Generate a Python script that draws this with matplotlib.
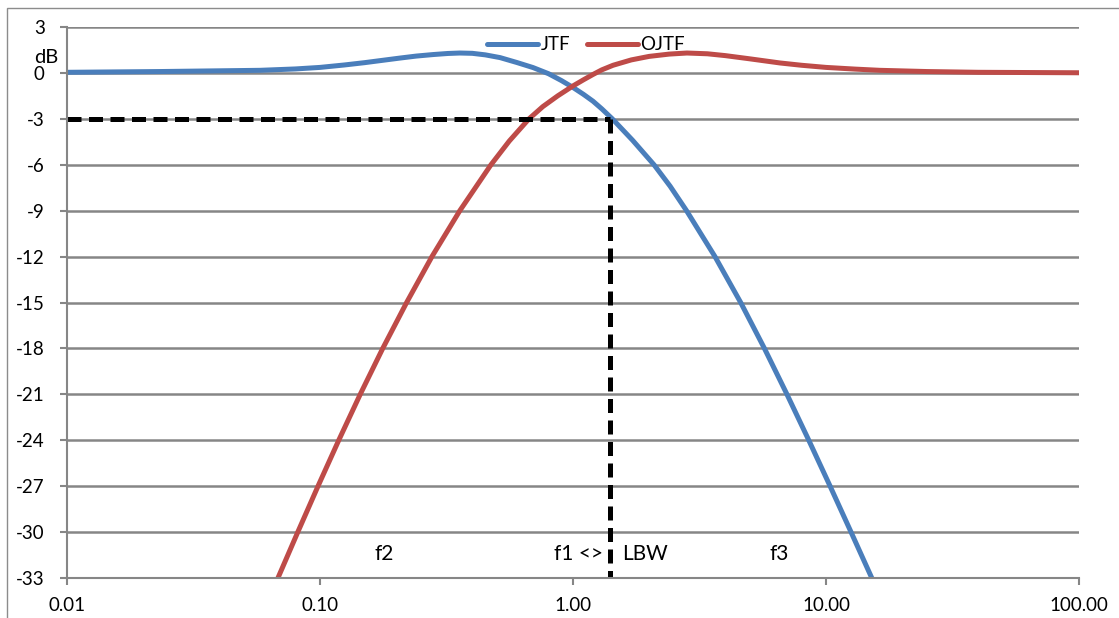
import matplotlib
matplotlib.use('Agg')
import matplotlib.pyplot as plt
from matplotlib.patches import Rectangle

# values (frequency, dB)
jtf_f = [0.01, 0.0233, 0.058, 0.08, 0.1, 0.125, 0.15, 0.18, 0.207, 0.24, 0.28, 0.32, 0.357,
         0.4, 0.45, 0.515, 0.6, 0.695, 0.8, 0.9, 1.0, 1.1, 1.2, 1.3, 1.43,
         1.72, 2.09, 2.42, 2.81, 3.64, 4.60, 5.71, 7.01, 8.55, 10.38, 12.56, 15.17]
jtf_db = [0.04, 0.09, 0.17, 0.26, 0.36, 0.52, 0.67, 0.84, 0.97, 1.1, 1.2, 1.27, 1.3,
          1.28, 1.18, 1.0, 0.68, 0.35, -0.05, -0.5, -0.95, -1.4, -1.85, -2.35, -3,
          -4.4, -6, -7.4, -9, -12, -15, -18, -21, -24, -27, -30, -33]

ojtf_f = [0.0682, 0.0817, 0.0982, 0.1186, 0.1442, 0.177, 0.220, 0.277, 0.357, 0.474, 0.56, 0.67,
          0.76, 0.87, 1.0, 1.1, 1.2, 1.3, 1.44, 1.7, 2.0, 2.4, 2.82, 3.4, 4.0, 5.0, 6.58,
          8.0, 10.0, 13.0, 16.3, 25.0, 40.0, 100.0]
ojtf_db = [-33, -30, -27, -24, -21, -18, -15, -12, -9, -6, -4.45, -3,
           -2.2, -1.5, -0.85, -0.45, -0.1, 0.2, 0.5, 0.85, 1.08, 1.23, 1.3, 1.25, 1.13, 0.92, 0.65,
           0.5, 0.36, 0.25, 0.17, 0.09, 0.04, 0.01]

lbw_f = 1.4
lbw_db = -3

x_ticks = [0.01, 0.1, 1, 10, 100]
x_labels = ['0.01', '0.10', '1.00', '10.00', '100.00']
y_ticks = list(range(-33, 4, 3))

plt.rcParams['font.family'] = ['Lato', 'DejaVu Sans']
fs = 13.5

fig = plt.figure(figsize=(11.19, 6.18), dpi=100)
ax = fig.add_axes([67/1119, 1 - 578/618, 1012/1119, 551/618])

# outer chart border (only top and left are inside the picture)
fig.patches.append(Rectangle((7/1119, -0.1), 1.2, 1.1 - 8/618,
                             transform=fig.transFigure, fill=False,
                             edgecolor='#8c8c8c', lw=1))

grey = '#868686'
ax.set_xscale('log')
ax.set_xlim(0.01, 100)
ax.set_ylim(-33, 3)
ax.set_yticks(y_ticks)
ax.set_yticklabels([str(v) for v in y_ticks])
ax.set_xticks(x_ticks)
ax.set_xticklabels(x_labels)
ax.minorticks_off()
ax.tick_params(axis='both', colors=grey, labelcolor='black', labelsize=fs,
               length=5, width=1.5)
ax.tick_params(axis='x', pad=9)
ax.tick_params(axis='y', pad=11)
for side in ['top', 'right']:
    ax.spines[side].set_visible(False)
for side in ['left', 'bottom']:
    ax.spines[side].set_color(grey)
    ax.spines[side].set_linewidth(1.5)
ax.yaxis.grid(True, color=grey, lw=1.8)
ax.set_axisbelow(True)

ax.plot(jtf_f, jtf_db, color='#4a7ebb', lw=3.6, label='JTF', solid_joinstyle='round')
ax.plot(ojtf_f, ojtf_db, color='#be4b48', lw=3.6, label='OJTF', solid_joinstyle='round')

# -3 dB / loop bandwidth markers
ax.plot([0.01, lbw_f], [lbw_db, lbw_db], color='black', lw=3.6, ls=(0, (2.8, 1.5)))
ax.plot([lbw_f, lbw_f], [lbw_db, -33], color='black', lw=3.6, ls=(0, (2.8, 1.5)))

ax.text(-0.009, 1.0, 'dB', transform=ax.get_yaxis_transform(), ha='right',
        va='center', fontsize=14.5)
ax.text(0.179, -31.4, 'f2', ha='center', va='center', fontsize=15)
ax.text(1.31, -31.4, 'f1 <>', ha='right', va='center', fontsize=15)
ax.text(1.57, -31.4, 'LBW', ha='left', va='center', fontsize=15)
ax.text(6.52, -31.4, 'f3', ha='center', va='center', fontsize=15)

leg = ax.legend(loc='center', bbox_to_anchor=(0.513, 0.968), ncol=2,
                frameon=False, fontsize=fs, handlelength=2.7,
                handletextpad=0.15, columnspacing=0.9, borderpad=0)
for line in leg.get_lines():
    line.set_solid_capstyle('round')

fig.savefig('out.png', dpi=100)
